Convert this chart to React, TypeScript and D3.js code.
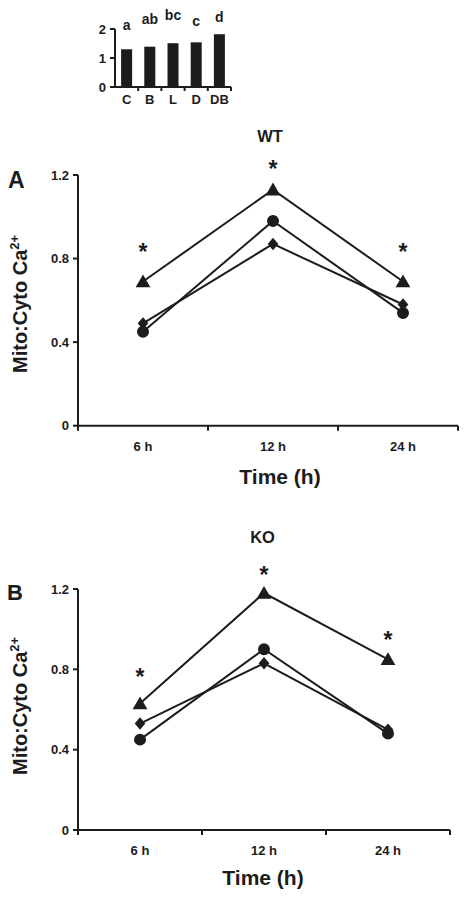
import React from "react";
import * as d3 from "d3";

// ---------- data ----------
const insetCategories = ["C", "B", "L", "D", "DB"];
const insetValues = [1.3, 1.39, 1.51, 1.54, 1.82];
const insetLetters = ["a", "ab", "bc", "c", "d"];
const insetLetterY = [1.95, 2.17, 2.31, 2.09, 2.25];
const insetTicks = [0, 1, 2];

const timeLabels = ["6 h", "12 h", "24 h"];
const yTicks = [0, 0.4, 0.8, 1.2];

const wtTriangle = [0.69, 1.13, 0.69];
const wtCircle = [0.45, 0.98, 0.54];
const wtDiamond = [0.49, 0.87, 0.58];
const wtStarY = [0.86, 1.256, 0.86];

const koTriangle = [0.63, 1.18, 0.85];
const koCircle = [0.45, 0.9, 0.48];
const koDiamond = [0.53, 0.83, 0.5];
const koStarY = [0.788, 1.295, 0.971];

const FONT = "'Liberation Sans', Arial, Helvetica, sans-serif";
const INK = "#1c1c1c";

const diamondPath = (() => {
  const p = d3.path();
  p.moveTo(0, -6.2);
  p.lineTo(5.3, 0);
  p.lineTo(0, 6.2);
  p.lineTo(-5.3, 0);
  p.closePath();
  return p.toString();
})();

type PanelProps = {
  letter: string;
  title: string;
  tri: number[];
  cir: number[];
  dia: number[];
  stars: number[];
  xRange: [number, number];
  axisEnd: number;
  yRange: [number, number];
  titleX: number;
  titleY: number;
  letterX: number;
  letterY: number;
  letterSize: number;
  xLabelX: number;
  xLabelY: number;
  yLabelStart: number;
};

function Panel(p: PanelProps) {
  const x = d3.scaleBand<string>().domain(timeLabels).range(p.xRange);
  const cx = (k: string) => (x(k) as number) + x.bandwidth() / 2;
  const y = d3.scaleLinear().domain([0, 1.2]).range(p.yRange);
  const x0 = p.xRange[0];
  const y0 = y(0);
  const line = d3
    .line<number>()
    .x((_, i) => cx(timeLabels[i]))
    .y((d) => y(d));
  const tri = d3.symbol(d3.symbolTriangle, 95)();
  const circ = d3.symbol(d3.symbolCircle, 113)();
  const boundaries = timeLabels.map((k) => x(k) as number).concat([p.xRange[1]]);
  const series = [
    { v: p.tri, path: tri, dy: 1.5 },
    { v: p.cir, path: circ, dy: 0 },
    { v: p.dia, path: diamondPath, dy: 0 },
  ];
  return (
    <g>
      <text x={p.letterX} y={p.letterY} fontSize={p.letterSize} fontWeight="bold" fill={INK} fontFamily={FONT}>
        {p.letter}
      </text>
      <text x={p.titleX} y={p.titleY} fontSize={16.5} fontWeight="bold" textAnchor="middle" fill={INK} fontFamily={FONT}>
        {p.title}
      </text>
      {/* y axis */}
      <line x1={x0} x2={x0} y1={y(1.2)} y2={y0} stroke={INK} strokeWidth={2} />
      {yTicks.map((t) => (
        <g key={t}>
          <line x1={x0 - 5} x2={x0} y1={y(t)} y2={y(t)} stroke={INK} strokeWidth={2} />
          <text x={x0 - 9} y={y(t) + 4.5} fontSize={13} fontWeight="bold" textAnchor="end" fill={INK} fontFamily={FONT}>
            {d3.format("")(t)}
          </text>
        </g>
      ))}
      {/* x axis */}
      <line x1={x0 - 1} x2={p.axisEnd} y1={y0} y2={y0} stroke={INK} strokeWidth={2} />
      {boundaries.map((b, i) => (
        <line key={i} x1={Math.min(b, p.axisEnd)} x2={Math.min(b, p.axisEnd)} y1={y0} y2={y0 + 5} stroke={INK} strokeWidth={2} />
      ))}
      {timeLabels.map((k) => (
        <text key={k} x={cx(k)} y={y0 + 25} fontSize={13} fontWeight="bold" textAnchor="middle" fill={INK} fontFamily={FONT}>
          {k}
        </text>
      ))}
      <text x={p.xLabelX} y={p.xLabelY} fontSize={21} fontWeight="bold" textAnchor="middle" fill={INK} fontFamily={FONT}>
        Time (h)
      </text>
      {/* y label */}
      <text
        transform={`translate(27,${p.yLabelStart}) rotate(-90)`}
        fontSize={20}
        fontWeight="bold"
        fill={INK}
        fontFamily={FONT}
      >
        Mito:Cyto Ca
        <tspan fontSize={13} dy={-8}>
          2+
        </tspan>
      </text>
      {/* lines */}
      {series.map((s, i) => (
        <path key={i} d={line(s.v) as string} fill="none" stroke={INK} strokeWidth={2} />
      ))}
      {/* markers */}
      {series.map((s, i) =>
        s.v.map((v, j) => (
          <path
            key={`${i}-${j}`}
            d={s.path as string}
            transform={`translate(${cx(timeLabels[j])},${y(v) + s.dy})`}
            fill={INK}
          />
        ))
      )}
      {/* asterisks */}
      {p.stars.map((v, j) => (
        <text
          key={j}
          x={cx(timeLabels[j])}
          y={y(v) + 13.5}
          fontSize={23}
          fontWeight="bold"
          textAnchor="middle"
          fill={INK}
          fontFamily={FONT}
        >
          *
        </text>
      ))}
    </g>
  );
}

function Inset() {
  const x = d3.scaleBand<string>().domain(insetCategories).range([115, 231]);
  const y = d3.scaleLinear().domain([0, 2]).range([87, 29]);
  const bw = 11;
  const boundaries = insetCategories.map((k) => (x(k) as number) + x.bandwidth());
  return (
    <g>
      {insetCategories.map((k, i) => {
        const c = (x(k) as number) + x.bandwidth() / 2;
        return (
          <g key={k}>
            <rect x={c - bw / 2} y={y(insetValues[i])} width={bw} height={y(0) - y(insetValues[i])} fill={INK} />
            <text x={c} y={y(insetLetterY[i])} fontSize={14} fontWeight="bold" textAnchor="middle" fill={INK} fontFamily={FONT}>
              {insetLetters[i]}
            </text>
            <text x={c} y={103.5} fontSize={13} fontWeight="bold" textAnchor="middle" fill={INK} fontFamily={FONT}>
              {k}
            </text>
          </g>
        );
      })}
      <line x1={115} x2={115} y1={y(2)} y2={y(0)} stroke={INK} strokeWidth={2} />
      <line x1={114} x2={231} y1={y(0)} y2={y(0)} stroke={INK} strokeWidth={2} />
      {boundaries.map((b, i) => (
        <line key={i} x1={b} x2={b} y1={y(0)} y2={y(0) + 4} stroke={INK} strokeWidth={2} />
      ))}
      {insetTicks.map((t) => (
        <g key={t}>
          <line x1={110} x2={115} y1={y(t)} y2={y(t)} stroke={INK} strokeWidth={2} />
          <text x={106} y={y(t) + 4.5} fontSize={13} fontWeight="bold" textAnchor="end" fill={INK} fontFamily={FONT}>
            {t}
          </text>
        </g>
      ))}
    </g>
  );
}

export default function App() {
  return (
    <svg
      width={468}
      height={899}
      style={{ position: "absolute", left: 0, top: 0, background: "#fff" }}
    >
      <rect width={468} height={899} fill="#fff" />
      <Inset />
      <Panel
        letter="A"
        title="WT"
        tri={wtTriangle}
        cir={wtCircle}
        dia={wtDiamond}
        stars={wtStarY}
        xRange={[78, 468]}
        axisEnd={458}
        yRange={[425.7, 175]}
        titleX={270}
        titleY={141.7}
        letterX={8}
        letterY={188.3}
        letterSize={23}
        xLabelX={280}
        xLabelY={484}
        yLabelStart={373}
      />
      <Panel
        letter="B"
        title="KO"
        tri={koTriangle}
        cir={koCircle}
        dia={koDiamond}
        stars={koStarY}
        xRange={[78, 450]}
        axisEnd={450}
        yRange={[830, 589]}
        titleX={262.5}
        titleY={543.3}
        letterX={7}
        letterY={600}
        letterSize={22}
        xLabelX={263}
        xLabelY={885}
        yLabelStart={775}
      />
    </svg>
  );
}
